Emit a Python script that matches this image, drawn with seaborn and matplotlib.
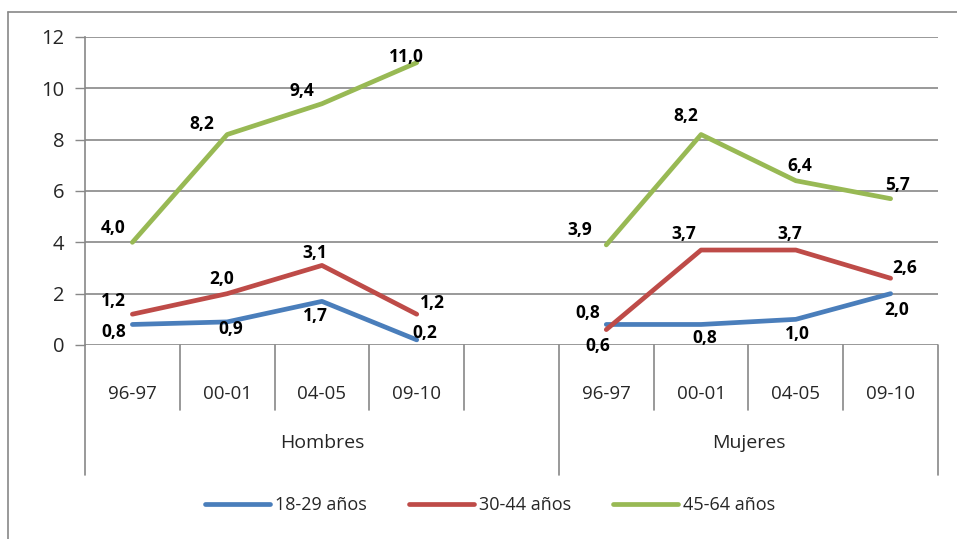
import matplotlib
matplotlib.use("Agg")
import matplotlib.pyplot as plt
import matplotlib.transforms as mtrans
from matplotlib.lines import Line2D
import seaborn as sns
import pandas as pd

# ---------------- data ----------------
periods = ["96-97", "00-01", "04-05", "09-10"]
groups = ["Hombres", "Mujeres"]
series_names = ["18-29 años", "30-44 años", "45-64 años"]
hombres_18_29 = [0.8, 0.9, 1.7, 0.2]
hombres_30_44 = [1.2, 2.0, 3.1, 1.2]
hombres_45_64 = [4.0, 8.2, 9.4, 11.0]
mujeres_18_29 = [0.8, 0.8, 1.0, 2.0]
mujeres_30_44 = [0.6, 3.7, 3.7, 2.6]
mujeres_45_64 = [3.9, 8.2, 6.4, 5.7]
y_ticks = [0, 2, 4, 6, 8, 10, 12]

colors = ["#4A7EBB", "#BE4B48", "#98B954"]

# category slots: 4 Hombres, 1 empty, 4 Mujeres
slots = periods + [""] + periods
group_start = {"Hombres": 0, "Mujeres": 5}

data = {
    ("Hombres", series_names[0]): hombres_18_29,
    ("Hombres", series_names[1]): hombres_30_44,
    ("Hombres", series_names[2]): hombres_45_64,
    ("Mujeres", series_names[0]): mujeres_18_29,
    ("Mujeres", series_names[1]): mujeres_30_44,
    ("Mujeres", series_names[2]): mujeres_45_64,
}
rows = []
for (g, s), vals in data.items():
    for i, v in enumerate(vals):
        rows.append({"group": g, "serie": s, "pos": group_start[g] + i, "value": v})
df = pd.DataFrame(rows)

# label offsets in pixels (dx, dy up-positive) per (group, serie)
offsets = {
    ("Hombres", series_names[0]): [(-19, -8), (4, -7), (-7, -15), (8, 7)],
    ("Hombres", series_names[1]): [(-19, 13), (-6, 15), (-7, 12), (16, 11)],
    ("Hombres", series_names[2]): [(-19, 14), (-25, 11), (-20, 13), (-10, 6)],
    ("Mujeres", series_names[0]): [(-19, 11), (4, -14), (2, -15), (6, -16)],
    ("Mujeres", series_names[1]): [(-9, -16), (-17, 16), (-6, 16), (14, 10)],
    ("Mujeres", series_names[2]): [(-27, 15), (-15, 19), (4, 15), (7, 14)],
}

# ---------------- figure ----------------
W, H = 957, 539
sns.set_theme(style="white")
plt.rcParams["font.family"] = ["Open Sans", "DejaVu Sans"]
fig = plt.figure(figsize=(W / 100, H / 100), dpi=100)

L, R, T, B = 85, 938, 37, 345
ax = fig.add_axes([L / W, 1 - B / H, (R - L) / W, (B - T) / H])

sns.lineplot(data=df, x="pos", y="value", hue="serie", units="group", estimator=None,
             palette=colors, hue_order=series_names, linewidth=3.4, ax=ax,
             legend=False, solid_capstyle="round", zorder=3)

ax.set_xlim(-0.5, 8.5)
ax.set_ylim(0, 12)
ax.set_yticks(y_ticks)
ax.set_yticklabels([str(t) for t in y_ticks], fontsize=14.5)
ax.set_xticks(range(len(slots)))
ax.set_xticklabels(slots, fontsize=13.5)
ax.tick_params(axis="x", length=0, pad=29)
ax.tick_params(axis="y", length=7, width=1, color="#888888", pad=8, left=True)
ax.set_xlabel("")
ax.set_ylabel("")
for sp in ["top", "right", "bottom"]:
    ax.spines[sp].set_visible(False)
ax.spines["left"].set_color("#888888")
ax.spines["left"].set_linewidth(1.2)

for t in y_ticks:
    ax.axhline(t, color="#888888", lw=1.2, zorder=1)

# data labels
for (g, s), vals in data.items():
    for i, v in enumerate(vals):
        dx, dy = offsets[(g, s)][i]
        ax.annotate(f"{v:.1f}".replace(".", ","), (group_start[g] + i, v),
                    xytext=(dx, dy), textcoords="offset pixels",
                    ha="center", va="center", fontsize=12.5, fontweight="bold",
                    color="black", zorder=5)

# multi-level category axis
trans = mtrans.blended_transform_factory(ax.transData, ax.transAxes)
px = (B - T)
def ay(ypix):
    return (B - ypix) / px

short_div = [0.5, 1.5, 2.5, 3.5, 5.5, 6.5, 7.5]
long_div = [-0.5, 4.5, 8.5]
for x in short_div:
    ax.plot([x, x], [0, ay(410)], transform=trans, color="#888888", lw=1.2, clip_on=False)
for x in long_div:
    ax.plot([x, x], [0, ay(475)], transform=trans, color="#888888", lw=1.2, clip_on=False)

ax.text(2, ay(443), "Hombres", transform=trans, ha="center", va="center", fontsize=14)
ax.text(6.5, ay(443), "Mujeres", transform=trans, ha="center", va="center", fontsize=14)

# legend
handles = [Line2D([0], [0], color=c, lw=3.4) for c in colors]
fig.legend(handles, series_names, loc="center", bbox_to_anchor=(490 / W, 1 - 505 / H),
           ncol=3, frameon=False, fontsize=13, handlelength=3.6, handletextpad=0.3,
           columnspacing=2.3)

# outer chart border
fig.add_artist(Line2D([8 / W, 8 / W], [0, 1 - 12 / H], color="#888888", lw=1.2,
                      transform=fig.transFigure))
fig.add_artist(Line2D([8 / W, 1], [1 - 12 / H, 1 - 12 / H], color="#888888", lw=1.2,
                      transform=fig.transFigure))

fig.savefig("out.png", dpi=100)
